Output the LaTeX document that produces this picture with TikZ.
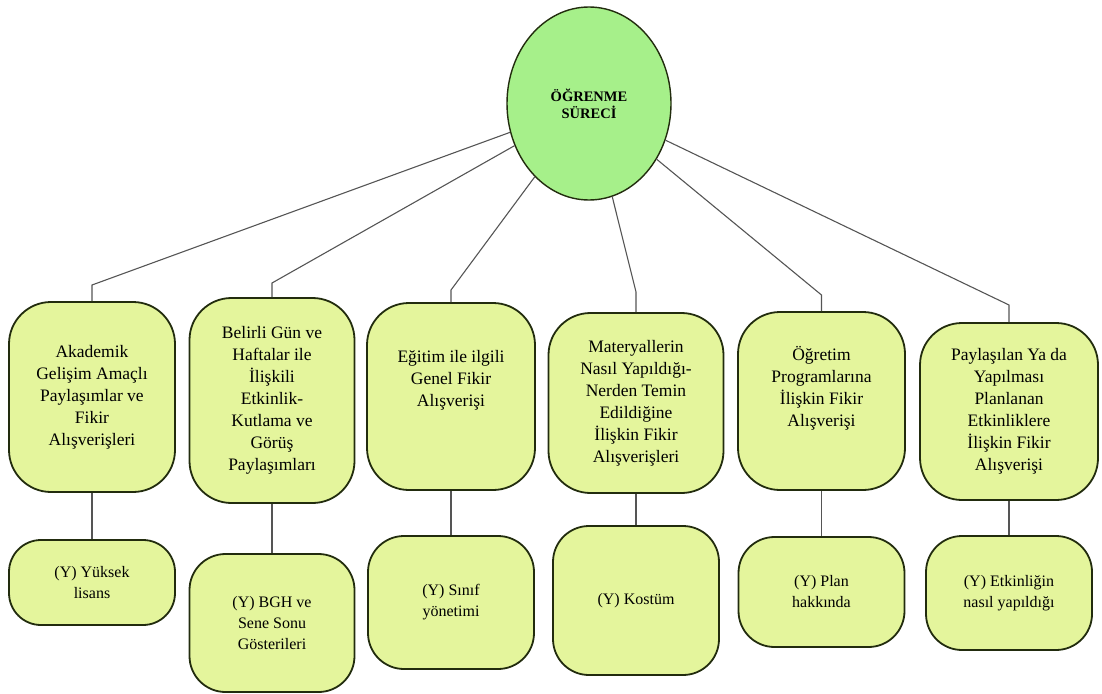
\documentclass[tikz,border=0pt]{standalone}
\usepackage{fontspec}
\setmainfont{Liberation Serif}
\usetikzlibrary{shapes.geometric}
\definecolor{kokyesil}{RGB}{166,240,138}
\definecolor{kutusari}{RGB}{228,245,156}
\definecolor{kenar}{RGB}{34,44,14}
\definecolor{cizgi}{RGB}{85,85,85}
\begin{document}
\begin{tikzpicture}[x=1pt,y=-1pt]
\tikzstyle{kok} = [ellipse,draw=kenar,line width=1.4pt,fill=kokyesil,minimum width=164,minimum height=193,inner sep=0,align=center,font=\rmfamily\fontsize{14.5}{17}\selectfont\bfseries] %ana kavram
\tikzstyle{ub} = [rectangle,rounded corners=42,draw=kenar,line width=1.8pt,fill=kutusari,inner sep=0,align=center,font=\rmfamily\fontsize{17.5}{22}\selectfont] %ust kutu
\tikzstyle{ab} = [rectangle,rounded corners=36,draw=kenar,line width=1.8pt,fill=kutusari,inner sep=0,align=center,font=\rmfamily\fontsize{16}{21}\selectfont] %alt kutu
\tikzstyle{ce} = [-,draw=cizgi,line width=1.1pt] %connector edge
\useasboundingbox (0,0) rectangle (1102,693);
\node[kok](ks)at(589,103.5){ÖĞRENME\\SÜRECİ};
\node[ub,minimum width=166,minimum height=190](va)at(92,397){Akademik\\Gelişim Amaçlı\\Paylaşımlar ve\\Fikir\\Alışverişleri};
\node[ub,minimum width=165,minimum height=205](vb)at(272,400.5){Belirli Gün ve\\Haftalar ile\\İlişkili\\Etkinlik-\\Kutlama ve\\Görüş\\Paylaşımları};
\node[ub,minimum width=168,minimum height=187](vc)at(451,396.5){Eğitim ile ilgili\\Genel Fikir\\Alışverişi\\[14pt]};
\node[ub,minimum width=175,minimum height=180](vd)at(636,403){Materyallerin\\Nasıl Yapıldığı-\\Nerden Temin\\Edildiğine\\İlişkin Fikir\\Alışverişleri};
\node[ub,minimum width=167,minimum height=178](ve)at(821.5,401){Öğretim\\Programlarına\\İlişkin Fikir\\Alışverişi\\[8pt]};
\node[ub,minimum width=178,minimum height=177](vf)at(1009,411.5){Paylaşılan Ya da\\Yapılması\\Planlanan\\Etkinliklere\\İlişkin Fikir\\Alışverişi};
\node[ab,minimum width=166,minimum height=85,rounded corners=32](ya)at(92,582.5){(Y) Yüksek\\lisans};
\node[ab,minimum width=165,minimum height=138](yb)at(272,623){(Y) BGH ve\\Sene Sonu\\Gösterileri};
\node[ab,minimum width=166,minimum height=133](yc)at(451,602.5){(Y) Sınıf\\yönetimi};
\node[ab,minimum width=166,minimum height=149](yd)at(636,600.5){(Y) Kostüm};
\node[ab,minimum width=166,minimum height=110](ye)at(821.5,592){(Y) Plan\\hakkında};
\node[ab,minimum width=166,minimum height=114](yf)at(1009,593){(Y) Etkinliğin\\nasıl yapıldığı};
\coordinate(ea)at(92,285);
\coordinate(eb)at(272,283);
\coordinate(ec)at(451,290);
\coordinate(ed)at(636,292);
\coordinate(ee)at(821.5,295);
\coordinate(ef)at(1009,305);
\draw[ce](ks)--(ea)--(va);
\draw[ce](ks)--(eb)--(vb);
\draw[ce](ks)--(ec)--(vc);
\draw[ce](ks)--(ed)--(vd);
\draw[ce](ks)--(ee)--(ve);
\draw[ce](ks)--(ef)--(vf);
\draw[ce](va)--(ya);
\draw[ce](vb)--(yb);
\draw[ce](vc)--(yc);
\draw[ce](vd)--(yd);
\draw[ce](ve)--(ye);
\draw[ce](vf)--(yf);
\end{tikzpicture}
\end{document}
